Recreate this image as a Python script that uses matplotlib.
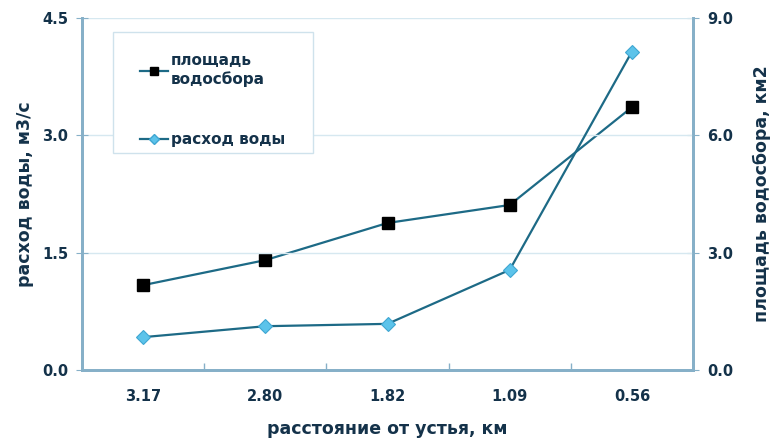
import matplotlib
matplotlib.use("Agg")
import matplotlib.pyplot as plt
from matplotlib.lines import Line2D
from matplotlib.patches import Rectangle

distances = ["3.17", "2.80", "1.82", "1.09", "0.56"]
discharge = [0.42, 0.56, 0.59, 1.28, 4.07]          # расход воды, м3/с
catchment_area = [2.17, 2.81, 3.76, 4.22, 6.72]     # площадь водосбора, км2

left_ticks = [0.0, 1.5, 3.0, 4.5]
right_ticks = [0.0, 3.0, 6.0, 9.0]

text_col = "#14324a"
spine_col = "#86b0c8"
grid_col = "#d6e8f0"
line_col = "#1d6a86"
diamond_col = "#5cc3ea"

plt.rcParams["font.family"] = ["DejaVu Sans"]
plt.rcParams["font.weight"] = "bold"

W, H = 771, 441
fig = plt.figure(figsize=(W / 100, H / 100), dpi=100)
ax = fig.add_axes([0.1064, 0.161, 0.7924, 0.798])
ax2 = ax.twinx()

x = list(range(len(distances)))

ax.set_xlim(-0.5, len(distances) - 0.5)
ax.set_ylim(0, 4.5)
ax2.set_ylim(0, 9.0)

for y in left_ticks[1:]:
    ax.axhline(y, color=grid_col, lw=1.0, zorder=0)

ax2.plot(x, catchment_area, color=line_col, lw=1.6, marker="s", ms=8,
         mfc="black", mec="black", zorder=3)
ax.plot(x, discharge, color=line_col, lw=1.6, marker="D", ms=7.5,
        mfc=diamond_col, mec="#3fa6d2", mew=0.8, zorder=4)
ax.set_zorder(ax2.get_zorder() + 1)
ax.patch.set_visible(False)

ax.set_yticks(left_ticks)
ax.set_yticklabels([f"{v:.1f}" for v in left_ticks])
ax2.set_yticks(right_ticks)
ax2.set_yticklabels([f"{v:.1f}" for v in right_ticks])

ax.set_xticks(x)
ax.set_xticklabels(distances)
ax.set_xticks([i + 0.5 for i in x[:-1]], minor=True)
ax.tick_params(axis="x", which="major", length=0, pad=14,
               labelsize=10.5, labelcolor=text_col)
ax.tick_params(axis="x", which="minor", direction="in", length=5,
               color=spine_col, width=1)
ax.tick_params(axis="y", direction="inout", length=8, color=spine_col,
               labelsize=10.5, labelcolor=text_col, pad=6)
ax2.tick_params(axis="y", direction="inout", length=8, color=spine_col,
                labelsize=10.5, labelcolor=text_col, pad=6)

for a in (ax, ax2):
    for side in ("left", "right", "bottom"):
        a.spines[side].set_color(spine_col)
        a.spines[side].set_linewidth(2.0)
    a.spines["top"].set_visible(False)

ax.set_ylabel("расход воды, м3/с", fontsize=12.5, color=text_col,
              fontweight="bold", labelpad=6)
ax2.set_ylabel("площадь водосбора, км2", fontsize=12.5, color=text_col,
               fontweight="bold", labelpad=14)
ax.set_xlabel("расстояние от устья, км", fontsize=12.5, color=text_col,
              fontweight="bold", labelpad=11)

# legend frame
fig.add_artist(Rectangle((113 / W, 1 - 153 / H), 200 / W, 121 / H,
                         transform=fig.transFigure, facecolor="white",
                         edgecolor="#cfe2ec", lw=1.0, zorder=5))

handles = [
    Line2D([], [], color=line_col, lw=1.6, marker="s", ms=6,
           mfc="black", mec="black"),
    Line2D([], [], color=line_col, lw=1.6, marker="D", ms=5.5,
           mfc=diamond_col, mec="#3fa6d2"),
]
leg = fig.legend(handles, ["площадь\nводосбора", "расход воды"],
                 loc="upper left", bbox_to_anchor=(125 / W, 1 - 38 / H),
                 frameon=False, handlelength=1.8,
                 handletextpad=0.2, labelspacing=3.0, borderpad=0.5,
                 prop={"size": 11, "weight": "bold"})
leg.set_zorder(6)
for t in leg.get_texts():
    t.set_color(text_col)

fig.savefig("out.png", dpi=100, facecolor="white")
